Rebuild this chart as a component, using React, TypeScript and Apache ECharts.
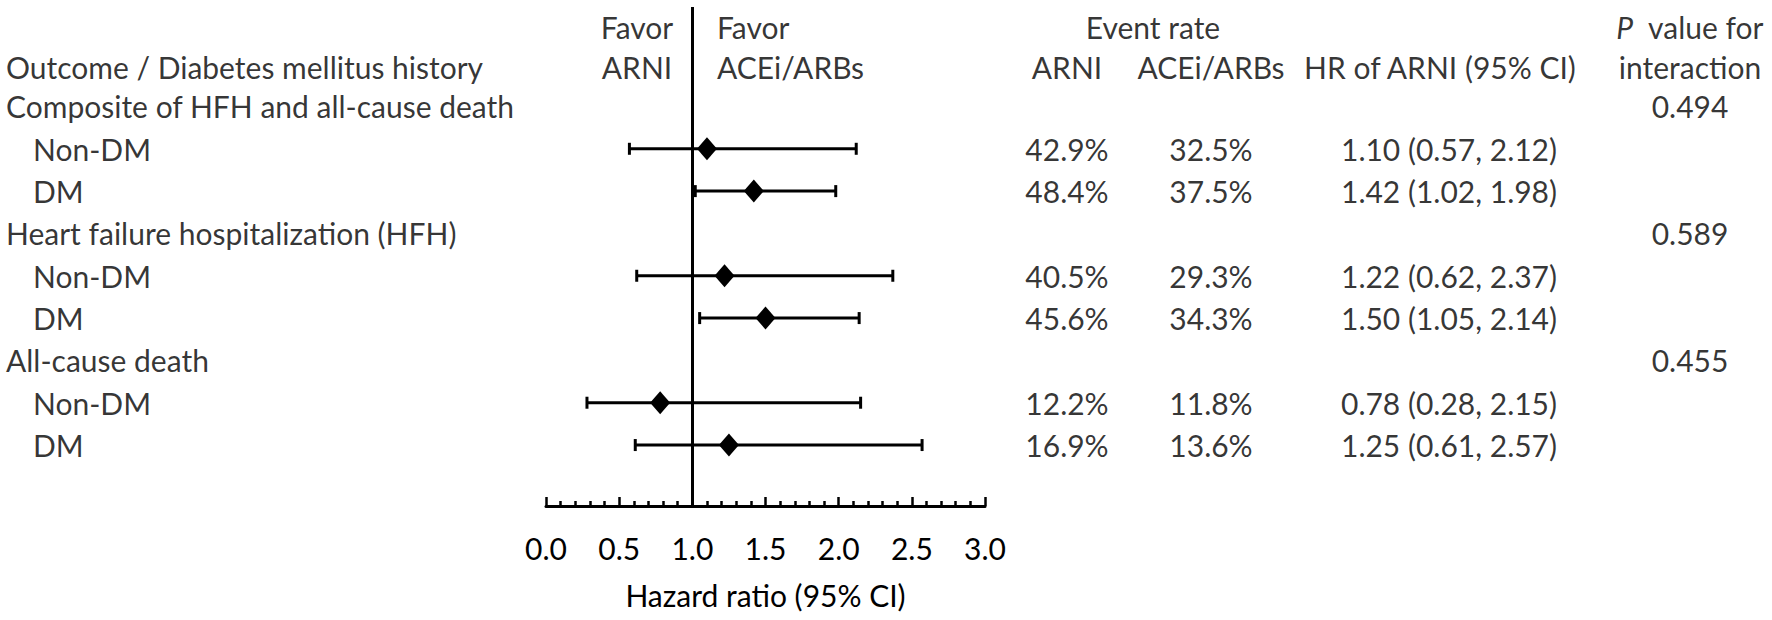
import React, { useEffect, useRef } from "react";
import * as echarts from "echarts";

// ---------- data ----------
const outcomes = [
  "Composite of HFH and all-cause death",
  "Heart failure hospitalization (HFH)",
  "All-cause death",
];
const subgroups = ["Non-DM", "DM"];
const hrValues = [1.1, 1.42, 1.22, 1.5, 0.78, 1.25];
const ciLow = [0.57, 1.02, 0.62, 1.05, 0.28, 0.61];
const ciHigh = [2.12, 1.98, 2.37, 2.14, 2.15, 2.57];
const arniRate = [42.9, 48.4, 40.5, 45.6, 12.2, 16.9];
const aceiRate = [32.5, 37.5, 29.3, 34.3, 11.8, 13.6];
const pInteraction = ["0.494", "0.589", "0.455"];
const xTicks = [0, 0.5, 1, 1.5, 2, 2.5, 3];

// ---------- layout constants ----------
const W = 1772;
const H = 620;
const FONT = "Lato";
const FS = 30;
const ROW_TOP = -2.88;
const ROW_HEAD = -1.94;
const COL = {
  outcome: 6,
  sub: 33,
  favorL: 637,
  favorR: 717,
  arni: 1067,
  acei: 1211,
  event: 1153,
  hrHead: 1440,
  hrVal: 1449,
  p: 1690,
};

function subRow(i: number) {
  const g = Math.floor(i / 2);
  return g * 3 + (i % 2);
}

export default function App() {
  const ref = useRef<HTMLDivElement>(null);

  useEffect(() => {
    if (!ref.current) return;
    const chart = echarts.init(ref.current, undefined, { renderer: "svg" });

    type T = { t: string; x: number; y: number; a: "left" | "center" | "right" };
    const texts: T[] = [];
    texts.push({ t: "Favor", x: COL.favorL, y: ROW_TOP, a: "center" });
    texts.push({ t: "ARNI", x: COL.favorL, y: ROW_HEAD, a: "center" });
    texts.push({ t: "Favor", x: COL.favorR, y: ROW_TOP, a: "left" });
    texts.push({ t: "ACEi/ARBs", x: COL.favorR, y: ROW_HEAD, a: "left" });
    texts.push({ t: "Event rate", x: COL.event, y: ROW_TOP, a: "center" });
    texts.push({ t: "ARNI", x: COL.arni, y: ROW_HEAD, a: "center" });
    texts.push({ t: "ACEi/ARBs", x: COL.acei, y: ROW_HEAD, a: "center" });
    texts.push({ t: "HR of ARNI (95% CI)", x: COL.hrHead, y: ROW_HEAD, a: "center" });
    texts.push({ t: "{i|P}  value for", x: COL.p, y: ROW_TOP, a: "center" });
    texts.push({ t: "interaction", x: COL.p, y: ROW_HEAD, a: "center" });
    texts.push({ t: "Outcome / Diabetes mellitus history", x: COL.outcome, y: ROW_HEAD, a: "left" });

    outcomes.forEach((o, g) => {
      texts.push({ t: o, x: COL.outcome, y: g * 3 - 1, a: "left" });
      texts.push({ t: pInteraction[g], x: COL.p, y: g * 3 - 1, a: "center" });
    });
    hrValues.forEach((hr, i) => {
      const r = subRow(i);
      texts.push({ t: subgroups[i % 2], x: COL.sub, y: r, a: "left" });
      texts.push({ t: arniRate[i].toFixed(1) + "%", x: COL.arni, y: r, a: "center" });
      texts.push({ t: aceiRate[i].toFixed(1) + "%", x: COL.acei, y: r, a: "center" });
      texts.push({
        t: `${hr.toFixed(2)} (${ciLow[i].toFixed(2)}, ${ciHigh[i].toFixed(2)})`,
        x: COL.hrVal,
        y: r,
        a: "center",
      });
    });

    const yMin = -3.35;
    const yMax = 8.44;
    const gridTop = 7;
    const gridBottom = H - 506;

    const option: any = {
      animation: false,
      backgroundColor: "#ffffff",
      textStyle: { fontFamily: FONT },
      grid: [
        { left: 546, width: 439, top: gridTop, bottom: gridBottom, containLabel: false },
        { left: 0, right: 0, top: gridTop, bottom: gridBottom, containLabel: false },
      ],
      xAxis: [
        {
          type: "value",
          gridIndex: 0,
          position: "bottom",
          min: 0,
          max: 3,
          interval: 0.5,
          axisLine: { show: true, onZero: false, lineStyle: { color: "#000", width: 3 } },
          axisTick: { show: true, inside: true, length: 9, lineStyle: { color: "#000", width: 2.5 } },
          minorTick: { show: true, splitNumber: 5, length: 5, lineStyle: { color: "#000", width: 2.5 } },
          splitLine: { show: false },
          minorSplitLine: { show: false },
          axisLabel: {
            show: true,
            margin: 27,
            color: "#000",
            fontSize: FS,
            fontFamily: FONT,
            formatter: (v: number) => (xTicks.includes(v) ? v.toFixed(1) : ""),
          },
          name: "Hazard ratio (95% CI)",
          nameLocation: "middle",
          nameGap: 89,
          nameTextStyle: { color: "#000", fontSize: FS, fontFamily: FONT, verticalAlign: "middle" },
        },
        { type: "value", gridIndex: 1, min: 0, max: W, show: false },
      ],
      yAxis: [
        { type: "value", gridIndex: 0, min: yMin, max: yMax, inverse: true, show: false },
        { type: "value", gridIndex: 1, min: yMin, max: yMax, inverse: true, show: false },
      ],
      series: [
        {
          type: "custom",
          xAxisIndex: 0,
          yAxisIndex: 0,
          data: hrValues.map((_, i) => [ciLow[i], ciHigh[i], subRow(i)]),
          encode: { x: [0, 1], y: 2 },
          renderItem: (params: any, api: any) => {
            const p0 = api.coord([api.value(0), api.value(2)]);
            const p1 = api.coord([api.value(1), api.value(2)]);
            const cap = 6;
            const st = { stroke: "#000", lineWidth: 3 };
            return {
              type: "group",
              children: [
                { type: "line", shape: { x1: p0[0], y1: p0[1], x2: p1[0], y2: p1[1] }, style: st },
                { type: "line", shape: { x1: p0[0], y1: p0[1] - cap, x2: p0[0], y2: p0[1] + cap }, style: st },
                { type: "line", shape: { x1: p1[0], y1: p1[1] - cap, x2: p1[0], y2: p1[1] + cap }, style: st },
              ],
            };
          },
          silent: true,
          z: 2,
        },
        {
          type: "scatter",
          xAxisIndex: 0,
          yAxisIndex: 0,
          symbol: "diamond",
          symbolSize: [20, 23],
          itemStyle: { color: "#000", opacity: 1 },
          data: hrValues.map((hr, i) => [hr, subRow(i)]),
          markLine: {
            silent: true,
            symbol: "none",
            label: { show: false },
            lineStyle: { color: "#000", width: 3, type: "solid" },
            data: [{ xAxis: 1 }],
          },
          z: 3,
        },
        {
          type: "scatter",
          xAxisIndex: 1,
          yAxisIndex: 1,
          symbolSize: 1,
          itemStyle: { color: "rgba(0,0,0,0)" },
          silent: true,
          data: texts.map((d) => ({
            value: [d.x, d.y],
            label: {
              show: true,
              position: "inside",
              formatter: d.t,
              align: d.a,
              verticalAlign: "middle",
              color: "#000",
              fontSize: FS,
              fontFamily: FONT,
              rich: {
                i: { fontStyle: "italic", fontSize: FS, fontFamily: FONT, color: "#000" },
              },
            },
          })),
          z: 4,
        },
      ],
    };

    chart.setOption(option);
    return () => chart.dispose();
  }, []);

  return (
    <div
      ref={ref}
      style={{ position: "fixed", left: 0, top: 0, width: W, height: H, background: "#fff" }}
    />
  );
}
